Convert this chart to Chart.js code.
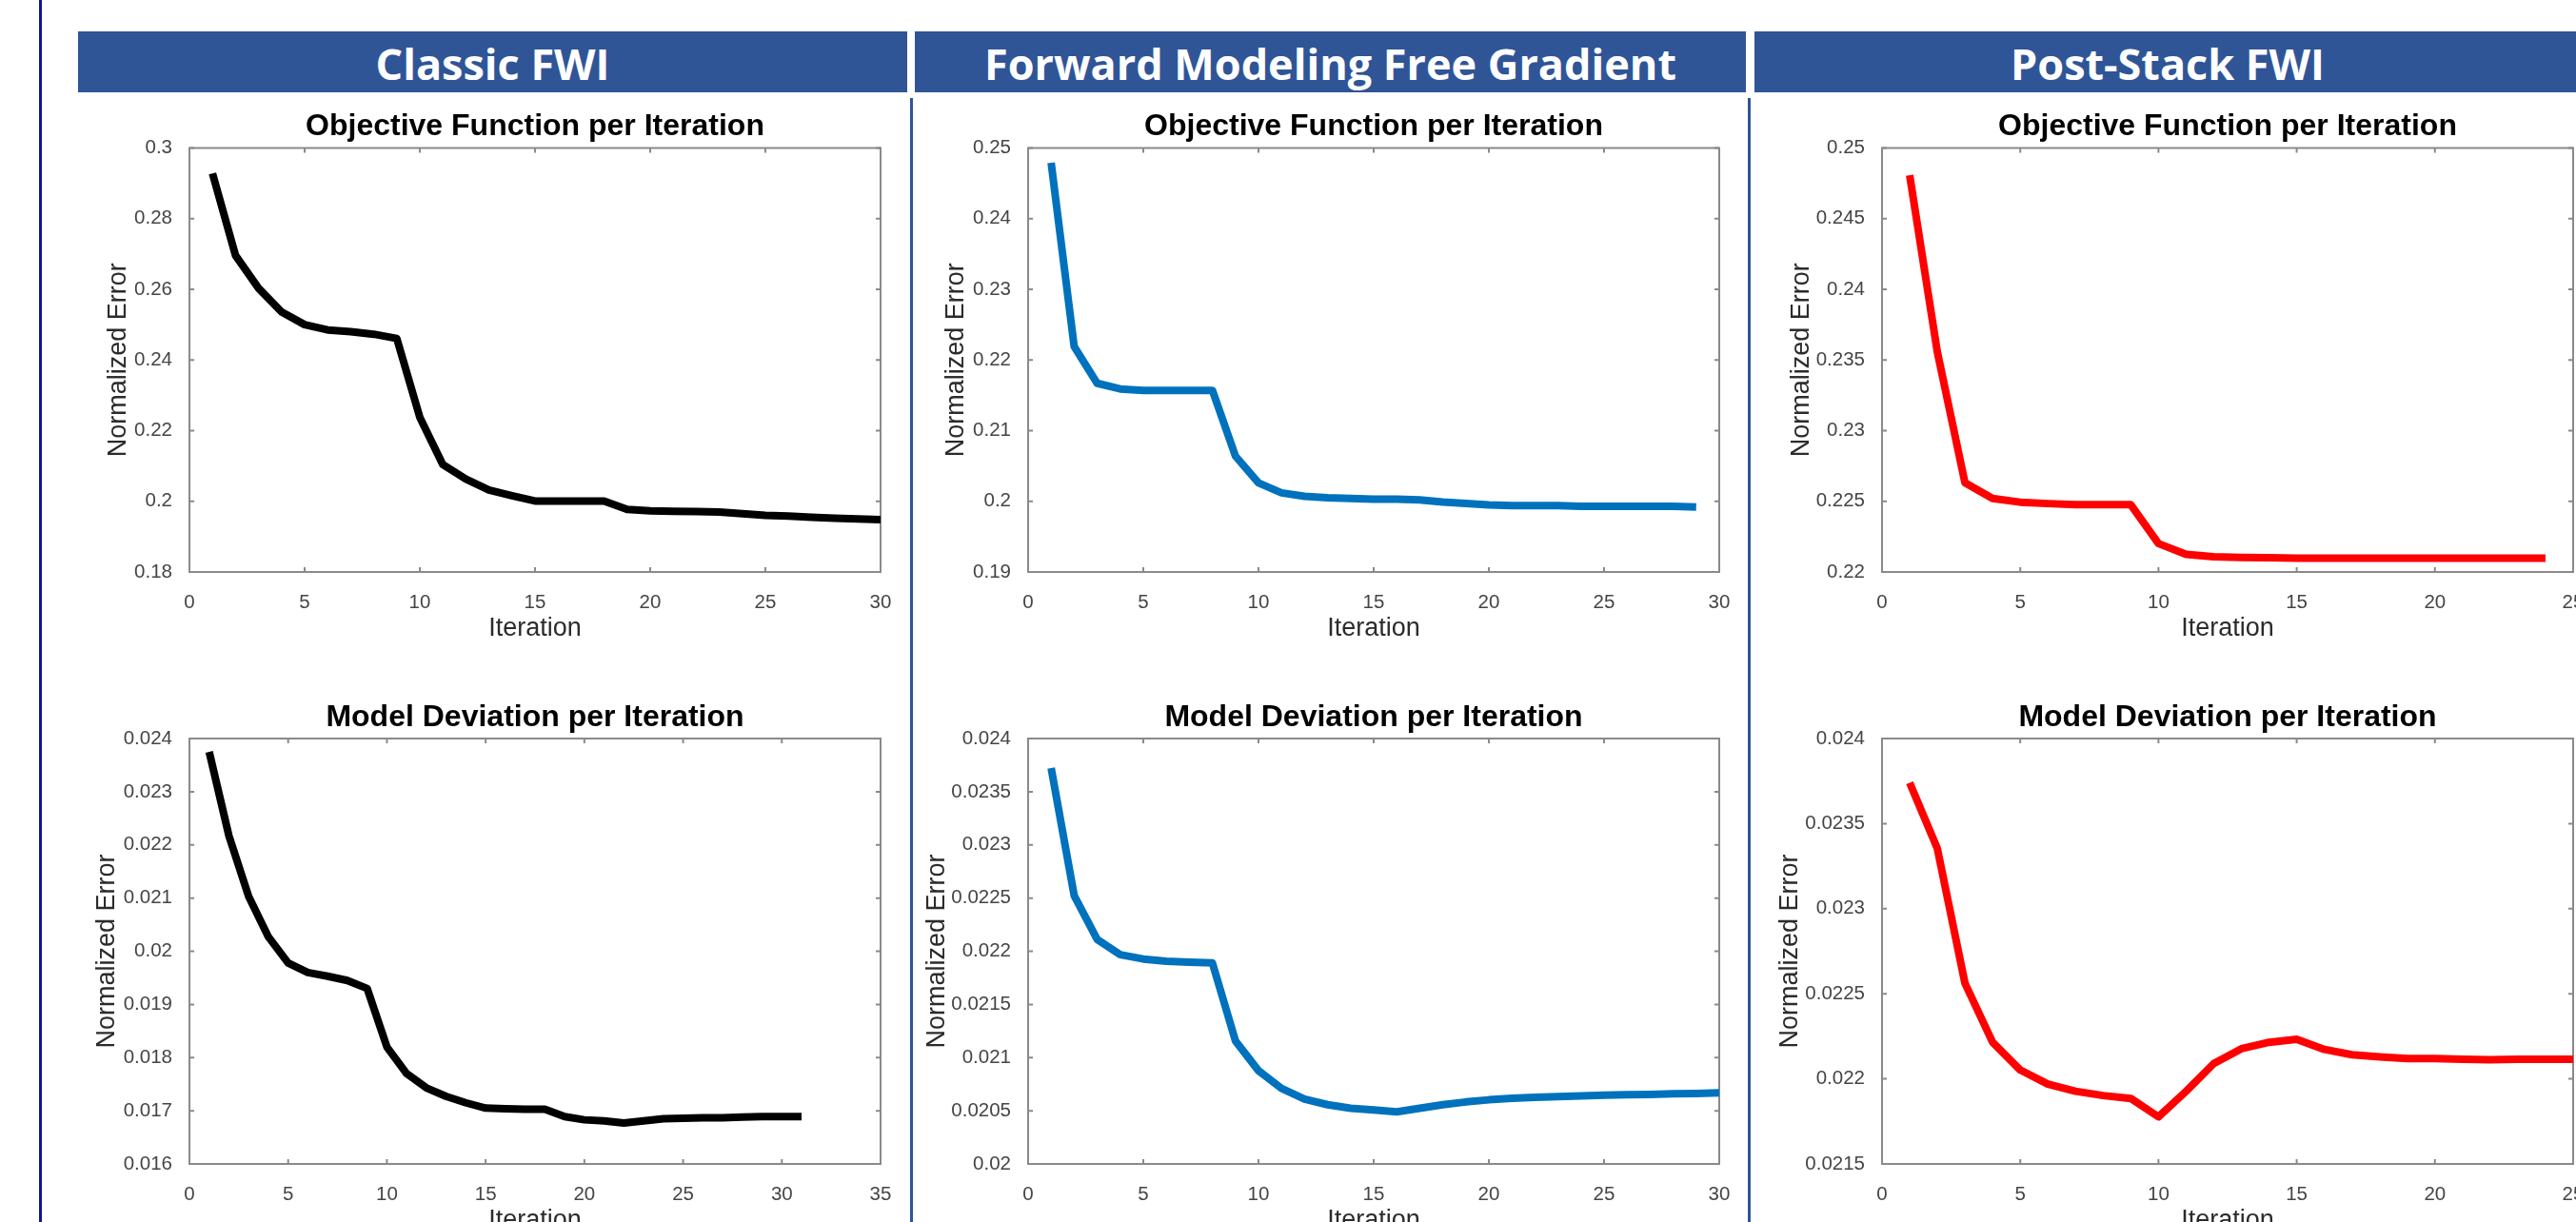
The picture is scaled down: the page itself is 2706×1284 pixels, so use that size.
<!DOCTYPE html>
<html>
<head>
<meta charset="utf-8">
<title>FWI convergence comparison</title>
<script src="https://cdn.jsdelivr.net/npm/chart.js@4.4.1/dist/chart.umd.min.js"></script>
<style>
  html, body { margin: 0; padding: 0; background: #fff; }
  body { width: 2706px; height: 1284px; overflow: hidden; position: relative; }
  .edge { position: absolute; top: 0; bottom: 0; left: 41px; width: 3px; background: #15158f; }
  .bar { position: absolute; top: 33px; height: 64px; padding-top: 2px; box-sizing: border-box;
         background: #2f5597; color: #fff; display: flex; align-items: center; justify-content: center;
         font: 700 45px 'Open Sans', sans-serif; white-space: nowrap; }
  .sep { position: absolute; top: 103px; bottom: 0; width: 3px; background: #2f5597; }
  canvas { position: absolute; }
</style>
</head>
<body>
<div class="edge"></div>
<div class="bar" style="left:82px;width:871px">Classic FWI</div>
<div class="bar" style="left:961px;width:873px">Forward Modeling Free Gradient</div>
<div class="bar" style="left:1843px;width:868px">Post-Stack FWI</div>
<div class="sep" style="left:956px"></div>
<div class="sep" style="left:1836px"></div>

<canvas id="classicObj" width="886" height="567" style="left:69px;top:114px"></canvas>
<canvas id="classicDev" width="886" height="568" style="left:69px;top:735px"></canvas>
<canvas id="freeObj" width="886" height="567" style="left:950px;top:114px"></canvas>
<canvas id="freeDev" width="886" height="568" style="left:950px;top:735px"></canvas>
<canvas id="postObj" width="886" height="567" style="left:1847px;top:114px"></canvas>
<canvas id="postDev" width="886" height="568" style="left:1847px;top:735px"></canvas>

<script>
// ---- data: one value per iteration, starting at iteration 1 ----
const classicObjective = [0.2928, 0.2696, 0.2603, 0.2536, 0.2500, 0.2485, 0.2480, 0.2473, 0.2461, 0.2238,
  0.2104, 0.2063, 0.2032, 0.2016, 0.2001, 0.2001, 0.2001, 0.2001, 0.1977, 0.1973,
  0.1972, 0.1971, 0.1970, 0.1965, 0.1960, 0.1958, 0.1955, 0.1952, 0.1950, 0.1948];
const classicDeviation = [0.02375, 0.02217, 0.02103, 0.02027, 0.01978, 0.01960, 0.01953, 0.01945, 0.01930, 0.01820,
  0.01770, 0.01743, 0.01727, 0.01715, 0.01705, 0.01704, 0.01703, 0.01703, 0.01689, 0.01683,
  0.01681, 0.01677, 0.01681, 0.01685, 0.01686, 0.01687, 0.01687, 0.01688, 0.01689, 0.01689, 0.01689];

const freeObjective = [0.2479, 0.2219, 0.2167, 0.2159, 0.2157, 0.2157, 0.2157, 0.2157, 0.2064, 0.2026,
  0.2012, 0.2007, 0.2005, 0.2004, 0.2003, 0.2003, 0.2002, 0.1999, 0.1997, 0.1995,
  0.1994, 0.1994, 0.1994, 0.1993, 0.1993, 0.1993, 0.1993, 0.1993, 0.1992];
const freeDeviation = [0.023723, 0.022523, 0.02211, 0.021967, 0.021927, 0.021907, 0.021897, 0.02189, 0.021157, 0.020877,
  0.02071, 0.02061, 0.020557, 0.020523, 0.020507, 0.02049, 0.020523, 0.020557, 0.020583, 0.020603,
  0.020617, 0.020627, 0.020633, 0.02064, 0.020647, 0.02065, 0.020653, 0.02066, 0.020663, 0.02067];

const postObjective = [0.24807, 0.23558, 0.22631, 0.2252, 0.22494, 0.22484, 0.22476, 0.22476, 0.22476, 0.22201,
  0.22124, 0.22108, 0.22103, 0.22101, 0.22098, 0.22098, 0.22098, 0.22098, 0.22098, 0.22098,
  0.22098, 0.22098, 0.22098, 0.22098];
const postDeviation = [0.02374, 0.023354, 0.022562, 0.022215, 0.022052, 0.021969, 0.021927, 0.021902, 0.021885, 0.021777,
  0.021927, 0.02209, 0.022177, 0.022215, 0.022233, 0.022173, 0.022142, 0.022129, 0.022119, 0.022119,
  0.022115, 0.022113, 0.022115, 0.022115, 0.022115];

// ---- tick labels ----
const iterTicks25 = ['0', '5', '10', '15', '20', '25'];
const iterTicks30 = ['0', '5', '10', '15', '20', '25', '30'];
const iterTicks35 = ['0', '5', '10', '15', '20', '25', '30', '35'];
const classicObjTicks = ['0.18', '0.2', '0.22', '0.24', '0.26', '0.28', '0.3'];
const classicDevTicks = ['0.016', '0.017', '0.018', '0.019', '0.02', '0.021', '0.022', '0.023', '0.024'];
const freeObjTicks = ['0.19', '0.2', '0.21', '0.22', '0.23', '0.24', '0.25'];
const freeDevTicks = ['0.02', '0.0205', '0.021', '0.0215', '0.022', '0.0225', '0.023', '0.0235', '0.024'];
const postObjTicks = ['0.22', '0.225', '0.23', '0.235', '0.24', '0.245', '0.25'];
const postDevTicks = ['0.0215', '0.022', '0.0225', '0.023', '0.0235', '0.024'];

// ---- look ----
const FONT = "'Liberation Sans', Arial, Helvetica, sans-serif";
const AXIS_COLOR = '#8a8a8a';
const TICK_TEXT = '#454545';
const LABEL_TEXT = '#2b2b2b';
const Y_AXIS_W = 130;   // room left of the plot box (tick labels + y title)
const X_AXIS_H = 80;    // room under the plot box (tick labels + x title)
const TICK_LEN = 5;

// box around the axes with inward tick marks on all four sides
const axesBox = {
  id: 'axesBox',
  beforeDatasetsDraw(chart) {
    const { ctx, chartArea: a, scales: { x, y } } = chart;
    ctx.save();
    ctx.strokeStyle = AXIS_COLOR;
    ctx.lineWidth = 2;
    ctx.strokeRect(a.left, a.top, a.width, a.height);
    ctx.beginPath();
    x.ticks.forEach(t => {
      const px = x.getPixelForValue(t.value);
      ctx.moveTo(px, a.bottom); ctx.lineTo(px, a.bottom - TICK_LEN);
      ctx.moveTo(px, a.top);    ctx.lineTo(px, a.top + TICK_LEN);
    });
    y.ticks.forEach(t => {
      const py = y.getPixelForValue(t.value);
      ctx.moveTo(a.left, py);  ctx.lineTo(a.left + TICK_LEN, py);
      ctx.moveTo(a.right, py); ctx.lineTo(a.right - TICK_LEN, py);
    });
    ctx.stroke();
    ctx.restore();
  }
};

function drawPanel(id, p) {
  const xVals = p.xTicks.map(Number);
  const yVals = p.yTicks.map(Number);
  return new Chart(document.getElementById(id), {
    type: 'line',
    data: {
      datasets: [{
        data: p.values.map((v, i) => ({ x: i + 1, y: v })),
        borderColor: p.color,
        borderWidth: 8,
        borderJoinStyle: 'round',
        pointRadius: 0,
        tension: 0,
        fill: false
      }]
    },
    options: {
      responsive: false,
      animation: false,
      events: [],
      layout: { padding: { right: 30 } },
      plugins: {
        legend: { display: false },
        tooltip: { enabled: false },
        title: {
          display: true,
          text: p.title,
          fullSize: false,
          color: '#000',
          font: { family: FONT, size: 32, weight: 'bold' },
          padding: { top: 0, bottom: p.titleGap }
        }
      },
      scales: {
        x: {
          type: 'linear',
          min: xVals[0],
          max: xVals[xVals.length - 1],
          grid: { display: false },
          border: { display: false },
          afterBuildTicks: s => { s.ticks = xVals.map(v => ({ value: v })); },
          afterFit: s => { s.height = X_AXIS_H; },
          ticks: {
            autoSkip: false, maxRotation: 0, padding: 12, color: TICK_TEXT,
            font: { family: FONT, size: 20.5 },
            callback: (v, i) => p.xTicks[i]
          },
          title: {
            display: true, text: 'Iteration', color: LABEL_TEXT,
            font: { family: FONT, size: 27 },
            padding: { top: 0, bottom: 4.4 }
          }
        },
        y: {
          type: 'linear',
          min: yVals[0],
          max: yVals[yVals.length - 1],
          grid: { display: false },
          border: { display: false },
          afterBuildTicks: s => { s.ticks = yVals.map(v => ({ value: v })); },
          afterFit: s => { s.width = Y_AXIS_W; },
          ticks: {
            autoSkip: false, padding: 10, color: TICK_TEXT,
            font: { family: FONT, size: 20.5 },
            callback: (v, i) => p.yTicks[i]
          },
          title: {
            display: true, text: 'Normalized Error', color: LABEL_TEXT,
            font: { family: FONT, size: 27 },
            // distance of the rotated label's centre from the plot edge
            padding: { top: Y_AXIS_W - p.labelOffset - 16.2, bottom: 0 }
          }
        }
      }
    },
    plugins: [axesBox]
  });
}

drawPanel('classicObj', { title: 'Objective Function per Iteration', values: classicObjective, color: '#000000',
  xTicks: iterTicks30, yTicks: classicObjTicks, titleGap: 3.1, labelOffset: 74 });
drawPanel('classicDev', { title: 'Model Deviation per Iteration', values: classicDeviation, color: '#000000',
  xTicks: iterTicks35, yTicks: classicDevTicks, titleGap: 2.6, labelOffset: 86 });
drawPanel('freeObj', { title: 'Objective Function per Iteration', values: freeObjective, color: '#0072bd',
  xTicks: iterTicks30, yTicks: freeObjTicks, titleGap: 3.1, labelOffset: 75.5 });
drawPanel('freeDev', { title: 'Model Deviation per Iteration', values: freeDeviation, color: '#0072bd',
  xTicks: iterTicks30, yTicks: freeDevTicks, titleGap: 2.6, labelOffset: 95.5 });
drawPanel('postObj', { title: 'Objective Function per Iteration', values: postObjective, color: '#ff0000',
  xTicks: iterTicks25, yTicks: postObjTicks, titleGap: 3.1, labelOffset: 84.5 });
drawPanel('postDev', { title: 'Model Deviation per Iteration', values: postDeviation, color: '#ff0000',
  xTicks: iterTicks25, yTicks: postDevTicks, titleGap: 2.6, labelOffset: 96.5 });
</script>
</body>
</html>
